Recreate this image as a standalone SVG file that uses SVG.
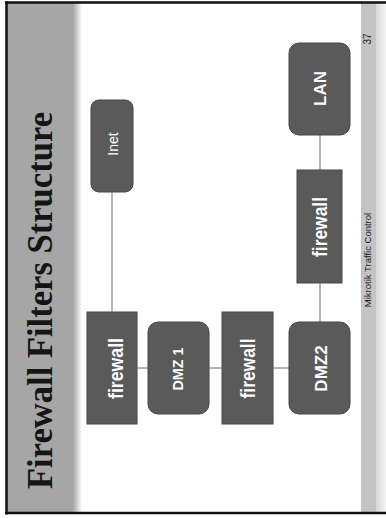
<svg xmlns="http://www.w3.org/2000/svg" width="386" height="518" viewBox="0 0 386 518">
  <defs>
    <linearGradient id="titleFade" x1="0" y1="0" x2="1" y2="0">
      <stop offset="0" stop-color="#a6a6a6"/>
      <stop offset="1" stop-color="#ffffff"/>
    </linearGradient>
    <linearGradient id="footFade" x1="0" y1="0" x2="1" y2="0">
      <stop offset="0" stop-color="#d8d8d8"/>
      <stop offset="1" stop-color="#f4f4f4"/>
    </linearGradient>
  </defs>
  <style>
    .node { fill: #5a5a5a; stroke: #474747; stroke-width: 1; }
    .lbl { fill: #ffffff; font-family: "Liberation Sans", Arial, sans-serif; text-anchor: middle; }
    .b { font-weight: bold; }
    .conn line { stroke: #6a6a6a; stroke-width: 1; }
    .frame { stroke: #111111; stroke-width: 2.5; }
  </style>
  <rect x="0" y="0" width="386" height="518" fill="#ffffff"/>
  <!-- title band -->
  <rect x="7" y="3" width="67" height="509" fill="#a6a6a6"/>
  <rect x="73" y="3" width="9" height="509" fill="url(#titleFade)"/>
  <!-- footer band -->
  <rect x="361" y="3" width="15" height="509" fill="#c4c4c4"/>
  <rect x="376" y="3" width="10" height="509" fill="url(#footFade)"/>
  <!-- frame -->
  <line class="frame" x1="6.5" y1="1.5" x2="6.5" y2="514.5"/>
  <line class="frame" x1="5" y1="2.5" x2="386" y2="2.5"/>
  <line class="frame" x1="5" y1="513" x2="386" y2="513"/>

  <text transform="translate(52,300.5) rotate(-90)" text-anchor="middle" font-family="Liberation Serif, 'Times New Roman', serif" font-weight="bold" font-size="36" textLength="377" lengthAdjust="spacingAndGlyphs" fill="#151515">Firewall Filters Structure</text>
  <text transform="translate(371,260) rotate(-90)" text-anchor="middle" font-family="Liberation Sans, Arial, sans-serif" font-size="9.5" fill="#1a1a1a">Mikrotik Traffic Control</text>
  <text transform="translate(371,39) rotate(-90)" text-anchor="middle" font-family="Liberation Sans, Arial, sans-serif" font-size="10" fill="#1a1a1a">37</text>

  <g class="conn" id="connectors">
    <line x1="112" y1="192" x2="112" y2="312"/>
    <line x1="137" y1="368" x2="148" y2="368"/>
    <line x1="209" y1="368" x2="222" y2="368"/>
    <line x1="273" y1="368" x2="289" y2="368"/>
    <line x1="320" y1="283" x2="320" y2="322"/>
    <line x1="320" y1="135" x2="320" y2="170"/>
  </g>

  <g id="inet">
    <rect class="node" x="91" y="100" width="42" height="92" rx="8"/>
    <text class="lbl" transform="translate(118,144) rotate(-90)" font-size="14">Inet</text>
  </g>
  <g id="firewall1">
    <rect class="node" x="87" y="312" width="50" height="112"/>
    <text class="lbl b" transform="translate(123,368.5) rotate(-90)" font-size="21" textLength="61" lengthAdjust="spacingAndGlyphs">firewall</text>
  </g>
  <g id="dmz1">
    <rect class="node" x="148" y="322" width="61" height="92" rx="10"/>
    <text class="lbl b" transform="translate(183,369) rotate(-90)" font-size="15" textLength="43" lengthAdjust="spacingAndGlyphs">DMZ 1</text>
  </g>
  <g id="firewall2">
    <rect class="node" x="222" y="312" width="51" height="112"/>
    <text class="lbl b" transform="translate(255,368.5) rotate(-90)" font-size="21" textLength="60" lengthAdjust="spacingAndGlyphs">firewall</text>
  </g>
  <g id="dmz2">
    <rect class="node" x="289" y="322" width="61" height="92" rx="10"/>
    <text class="lbl b" transform="translate(327,368.5) rotate(-90)" font-size="17">DMZ2</text>
  </g>
  <g id="firewall3">
    <rect class="node" x="297" y="170" width="45" height="113"/>
    <text class="lbl b" transform="translate(327,227) rotate(-90)" font-size="21" textLength="60" lengthAdjust="spacingAndGlyphs">firewall</text>
  </g>
  <g id="lan">
    <rect class="node" x="289" y="43" width="61" height="92" rx="10"/>
    <text class="lbl b" transform="translate(326,88.5) rotate(-90)" font-size="17">LAN</text>
  </g>
</svg>
